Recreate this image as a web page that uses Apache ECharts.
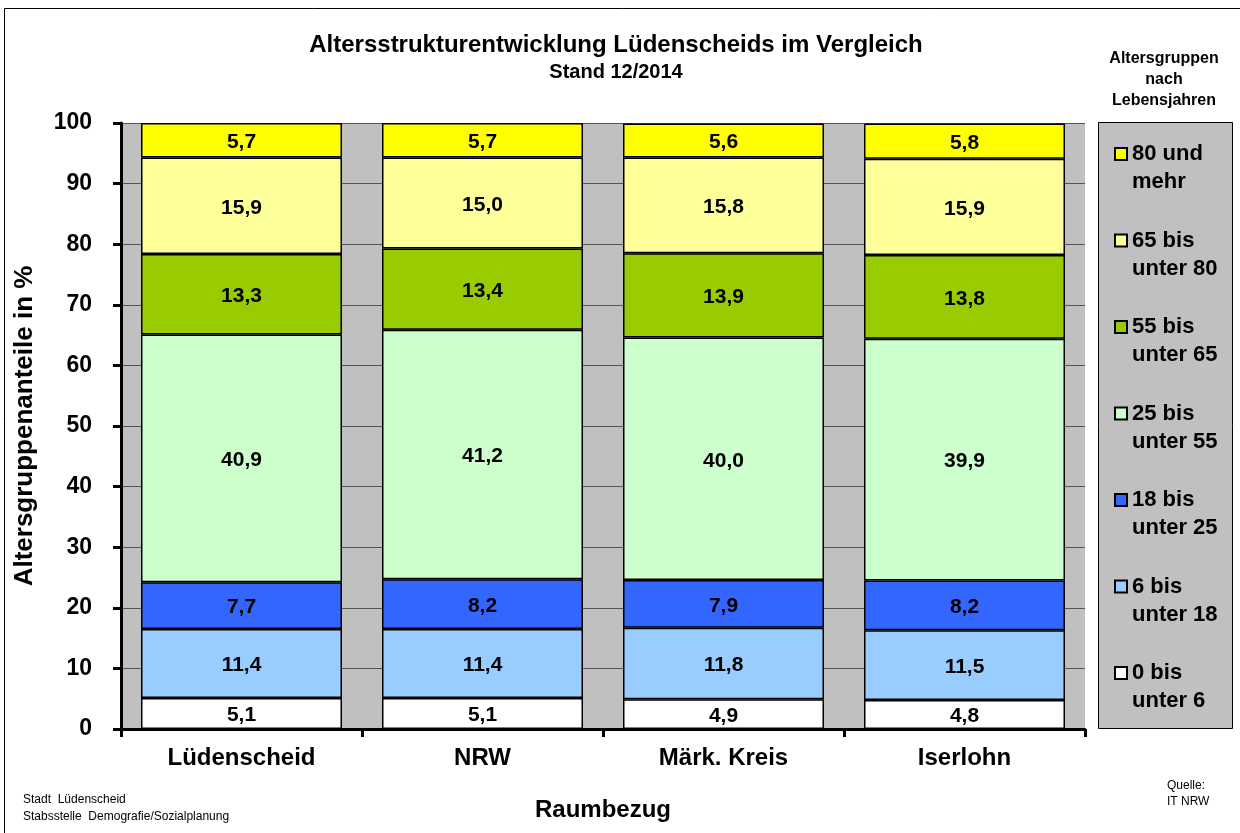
<!DOCTYPE html>
<html>
<head>
<meta charset="utf-8">
<script src="https://cdn.jsdelivr.net/npm/echarts@6/dist/echarts.min.js"></script>
<style>
  html, body { margin: 0; padding: 0; background: #fff; }
  #chart { width: 1240px; height: 833px; }
</style>
</head>
<body>
<div id="chart"></div>
<script>
// Raumbezug
const categories = ['Lüdenscheid', 'NRW', 'Märk. Kreis', 'Iserlohn'];
// Altersgruppen, von unten nach oben gestapelt
const groupNames = [
  '0 bis\nunter 6',
  '6 bis\nunter 18',
  '18 bis\nunter 25',
  '25 bis\nunter 55',
  '55 bis\nunter 65',
  '65 bis\nunter 80',
  '80 und\nmehr'
];
const age0to6 = [5.1, 5.1, 4.9, 4.8];
const age6to18 = [11.4, 11.4, 11.8, 11.5];
const age18to25 = [7.7, 8.2, 7.9, 8.2];
const age25to55 = [40.9, 41.2, 40.0, 39.9];
const age55to65 = [13.3, 13.4, 13.9, 13.8];
const age65to80 = [15.9, 15.0, 15.8, 15.9];
const age80plus = [5.7, 5.7, 5.6, 5.8];
const groupValues = [age0to6, age6to18, age18to25, age25to55, age55to65, age65to80, age80plus];
const groupColors = ['#FFFFFF', '#99CCFF', '#3366FF', '#CCFFCC', '#99CC00', '#FFFF99', '#FFFF00'];

const FONT = '"Liberation Sans", Arial, sans-serif';

const chart = echarts.init(document.getElementById('chart'));

const series = groupNames.map((name, i) => ({
  name: name,
  type: 'bar',
  stack: 'total',
  barCategoryGap: '16.6%',
  data: groupValues[i],
  itemStyle: {
    color: groupColors[i],
    borderColor: '#000',
    borderWidth: 1.5
  },
  label: {
    show: true,
    position: 'inside',
    offset: [0, 2],
    color: '#000',
    fontFamily: FONT,
    fontWeight: 'bold',
    fontSize: 21,
    formatter: p => p.value.toFixed(1).replace('.', ',')
  },
  emphasis: { disabled: true }
}));

const option = {
  animation: false,
  textStyle: { fontFamily: FONT },
  title: {
    text: 'Altersstrukturentwicklung Lüdenscheids im Vergleich',
    subtext: 'Stand 12/2014',
    left: 611,
    top: 28,
    textAlign: 'center',
    itemGap: 5,
    textStyle: { fontFamily: FONT, fontWeight: 'bold', fontSize: 24, color: '#000' },
    subtextStyle: { fontFamily: FONT, fontWeight: 'bold', fontSize: 20, color: '#000' }
  },
  grid: {
    left: 121,
    right: 155,
    top: 123,
    bottom: 104,
    show: true,
    backgroundColor: '#C0C0C0',
    borderWidth: 0
  },
  legend: {
    orient: 'vertical',
    left: 1109,
    top: 107,
    itemGap: 2.5,
    itemWidth: 12,
    itemHeight: 12,
    icon: 'rect',
    selectedMode: false,
    data: groupNames.slice().reverse(),
    // leere erste Zeile, damit das Symbol neben der ersten Textzeile steht
    formatter: name => '\n' + name,
    textStyle: {
      fontFamily: FONT,
      fontWeight: 'bold',
      fontSize: 22,
      lineHeight: 28,
      color: '#000'
    }
  },
  xAxis: {
    type: 'category',
    data: categories,
    name: 'Raumbezug',
    nameLocation: 'middle',
    nameGap: 69,
    nameTextStyle: { fontFamily: FONT, fontWeight: 'bold', fontSize: 24, color: '#000' },
    axisLine: { lineStyle: { color: '#000', width: 3 } },
    axisTick: { show: true, length: 8, lineStyle: { color: '#000', width: 3 } },
    axisLabel: { margin: 17, color: '#000', fontFamily: FONT, fontWeight: 'bold', fontSize: 24 }
  },
  yAxis: {
    type: 'value',
    min: 0,
    max: 100,
    interval: 10,
    name: 'Altersgruppenanteile in %',
    nameLocation: 'middle',
    nameGap: 83,
    nameTextStyle: { fontFamily: FONT, fontWeight: 'bold', fontSize: 26, color: '#000' },
    axisLine: { show: true, lineStyle: { color: '#000', width: 3 } },
    axisTick: { show: true, length: 8, lineStyle: { color: '#000', width: 3 } },
    axisLabel: { margin: 29, color: '#000', fontFamily: FONT, fontWeight: 'bold', fontSize: 23 },
    splitLine: { show: true, lineStyle: { color: '#555', width: 1 } }
  },
  graphic: [
    {
      type: 'rect',
      silent: true,
      z: -10,
      shape: { x: 4.5, y: 8.5, width: 1300, height: 900 },
      style: { fill: 'none', stroke: '#000', lineWidth: 1 }
    },
    {
      type: 'rect',
      silent: true,
      z: -5,
      shape: { x: 1098.5, y: 122.5, width: 134, height: 606 },
      style: { fill: '#C0C0C0', stroke: '#000', lineWidth: 1 }
    },
    {
      type: 'text',
      silent: true,
      style: {
        x: 1164, y: 48,
        text: 'Altersgruppen\nnach\nLebensjahren',
        textAlign: 'center',
        font: 'bold 16px ' + FONT,
        lineHeight: 21,
        fill: '#000'
      }
    },
    {
      type: 'text',
      silent: true,
      style: {
        x: 23, y: 791,
        text: 'Stadt  Lüdenscheid\nStabsstelle  Demografie/Sozialplanung',
        font: '12px ' + FONT,
        lineHeight: 17,
        fill: '#000'
      }
    },
    {
      type: 'text',
      silent: true,
      style: {
        x: 1167, y: 778,
        text: 'Quelle:\nIT NRW',
        font: '12px ' + FONT,
        lineHeight: 16,
        fill: '#000'
      }
    }
  ],
  series: series
};

chart.setOption(option);
</script>
</body>
</html>
